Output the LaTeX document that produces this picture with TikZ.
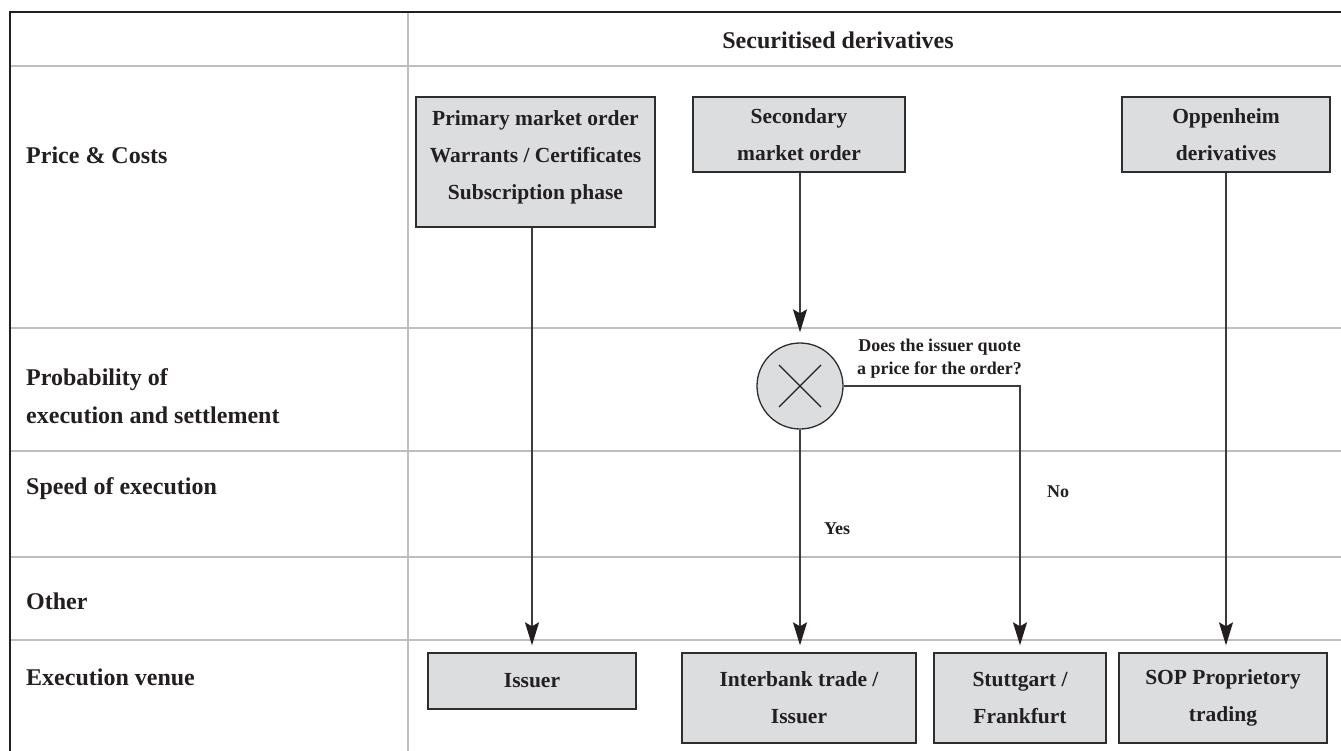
\documentclass[tikz,border=0pt]{standalone}
\usepackage{fontspec}
\setmainfont{Liberation Serif}
\usetikzlibrary{arrows.meta,calc}
\definecolor{gridgray}{HTML}{BEBEBE}
\definecolor{framec}{HTML}{231F20}
\definecolor{boxfill}{HTML}{DCDDDF}
\definecolor{boxedge}{HTML}{2E2E2E}
\definecolor{flow}{HTML}{3C3C3C}
\begin{document}
\begin{tikzpicture}[x=1pt,y=-1pt,
  gridline/.style={draw=gridgray,line width=1.2pt},
  frameline/.style={draw=framec,line width=1.3pt},
  rowlabel/.style={anchor=west,align=left,inner sep=0pt,
    font=\fontsize{24}{38}\selectfont\bfseries,text=framec},
  boxtext/.style={align=center,inner sep=0pt,
    font=\fontsize{21.5}{37}\selectfont\bfseries,text=framec},
  box/.style={boxtext,draw=boxedge,fill=boxfill,line width=1.3pt},
  flowline/.style={draw=flow,line width=1.4pt,
    -{Stealth[length=23pt,width=14pt,inset=4pt,color=framec]},shorten >=7pt},
  note/.style={align=center,inner sep=0pt,
    font=\fontsize{18}{23}\selectfont\bfseries,text=framec}]

\useasboundingbox (0,0) rectangle (1341,751);

% table rules
\draw[gridline] (10,66) -- (1341,66);
\draw[gridline] (10,328) -- (1341,328);
\draw[gridline] (10,451) -- (1341,451);
\draw[gridline] (10,557) -- (1341,557);
\draw[gridline] (10,640) -- (1341,640);
\draw[gridline] (408,12) -- (408,751);
\draw[frameline] (1341,12) -- (10,12) -- (10,751);

% header and row labels
\node[rowlabel,anchor=center] (head) at (838,40) {Securitised derivatives};
\node[rowlabel] (lprice) at (26,155) {Price \& Costs};
\node[rowlabel] (lprob) at (26,396) {Probability of\\execution and settlement};
\node[rowlabel] (lspeed) at (26,489) {Speed of execution};
\node[rowlabel] (lother) at (26,601) {Other};
\node[rowlabel] (lvenue) at (26,677) {Execution venue};

% order types
\node[box,minimum width=239pt,minimum height=130pt] (prim) at (535.5,162) {};
\node[boxtext] (primtext) at (535.5,157) {Primary market order\\Warrants / Certificates\\Subscription phase};
\node[box,minimum width=212pt,minimum height=75pt] (sec) at (799,134.5) {Secondary\\market order};
\node[box,minimum width=208pt,minimum height=75pt] (opp) at (1226,134.5) {Oppenheim\\derivatives};

% decision
\node[circle,draw=boxedge,fill=boxfill,line width=1.3pt,minimum size=86pt,inner sep=0pt] (dec) at (800,386) {};
\draw[draw=framec,line width=1.3pt] (dec.center) ++(-21,-21) -- ++(42,42);
\draw[draw=framec,line width=1.3pt] (dec.center) ++(-21,21) -- ++(42,-42);
\node[note] (question) at (939.5,358.5) {Does the issuer quote\\a price for the order?};

% execution venues
\node[box,minimum width=208pt,minimum height=56pt] (iss) at (532,681) {Issuer};
\node[box,minimum width=234pt,minimum height=90pt] (ib) at (799,698) {Interbank trade /\\Issuer};
\node[box,minimum width=172pt,minimum height=90pt] (st) at (1020,698) {Stuttgart /\\Frankfurt};
\node[box,minimum width=208pt,minimum height=90pt] (sop) at (1223,698) {SOP Proprietory\\trading};

% flows
\draw[flowline] (iss.north |- prim.south) -- (iss.north);
\draw[flowline,shorten >=10pt] (dec.north |- sec.south) -- (dec.north);
\draw[flowline] (dec.south) -- (dec.south |- ib.north);
\draw[flowline] (dec.east) -- (dec.east -| st.north) -- (st.north);
\draw[flowline] (opp.south) -- (opp.south |- sop.north);

\node[note] (yes) at (837,529) {Yes};
\node[note] (no) at (1058,492) {No};
\end{tikzpicture}
\end{document}
